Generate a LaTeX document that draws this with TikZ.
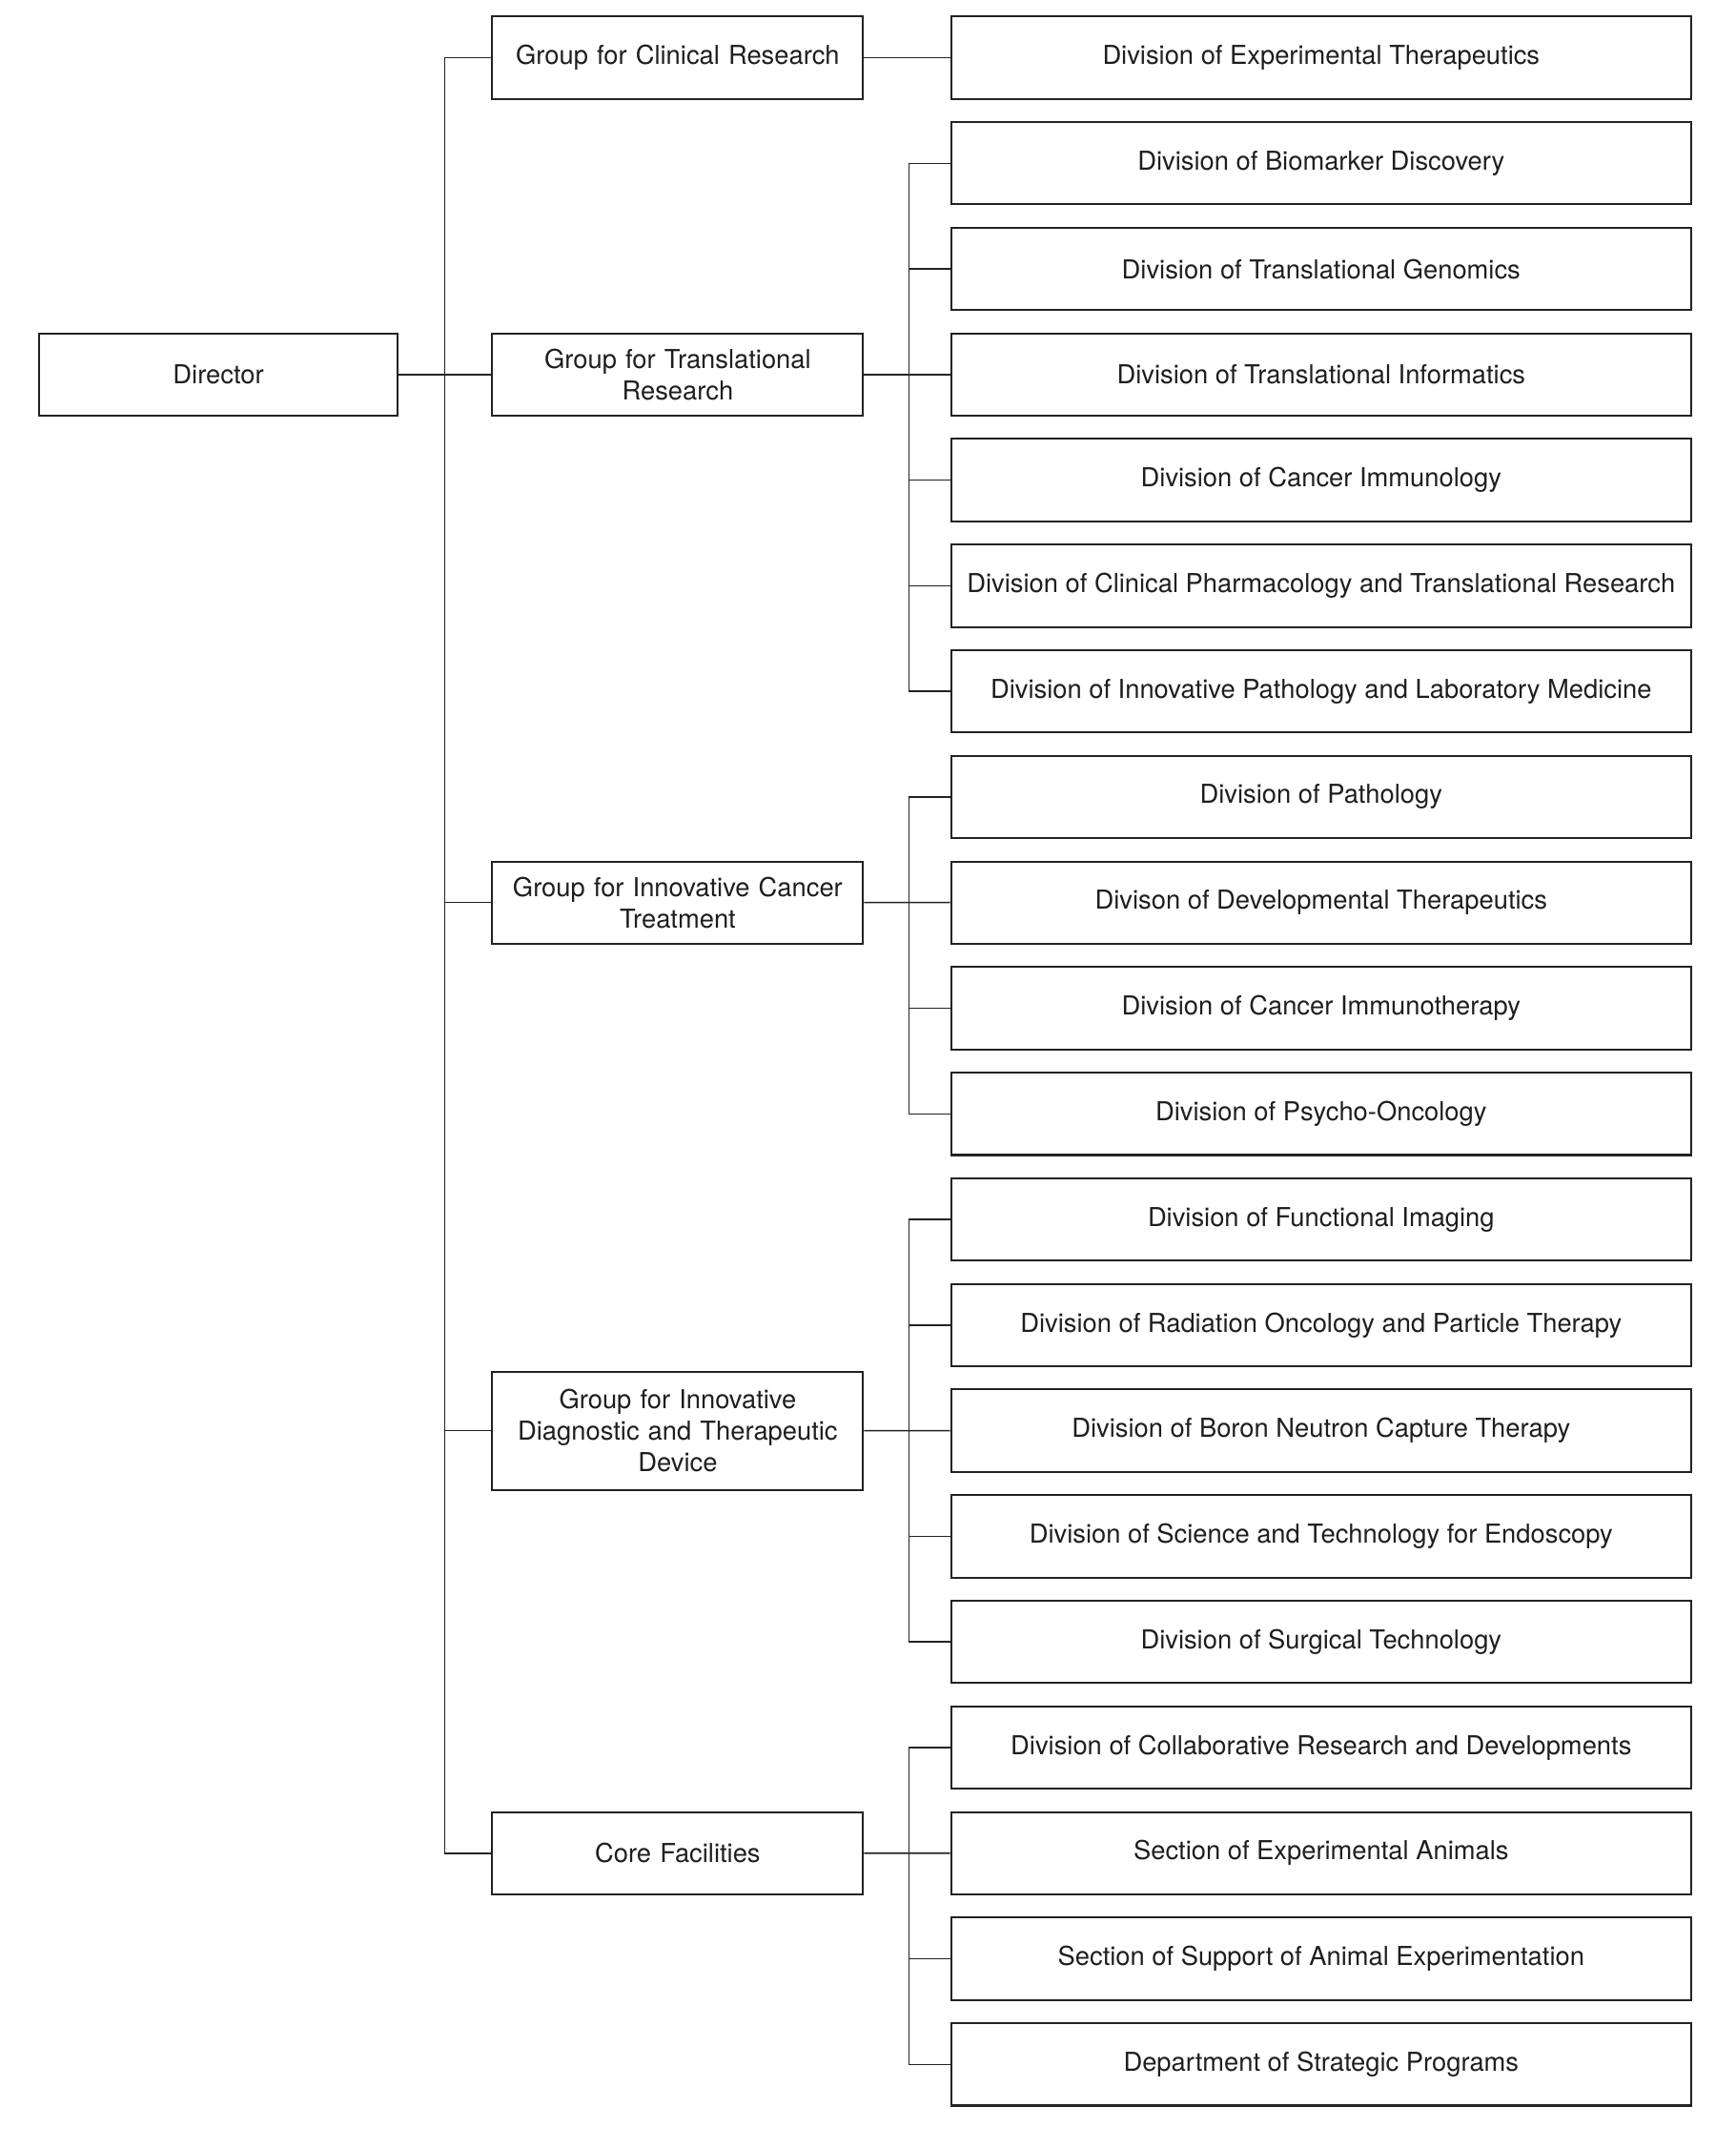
\documentclass[tikz,border=0pt]{standalone}
\usepackage{fontspec}
\setmainfont{TeX Gyre Heros}
\usepackage{tikz}
\usetikzlibrary{positioning,calc}
\usepackage{xcolor}
\definecolor{orgline}{RGB}{34,34,34}
\definecolor{orgtext}{RGB}{30,30,30}
\tikzstyle{unitbox} = [draw=orgline, line width=0.8pt, text=orgtext, align=center, inner sep=2pt, font=\fontsize{10.8}{13}\selectfont]
\tikzstyle{topbox} = [unitbox, minimum width=5.22cm, minimum height=1.2cm]
\tikzstyle{groupbox} = [unitbox, minimum width=5.4cm, minimum height=1.2cm, text width=5.1cm]
\tikzstyle{divbox} = [unitbox, minimum width=10.78cm, minimum height=1.2cm]
\tikzstyle{link} = [line width=0.6pt, color=orgline]

\begin{document}
\begin{tikzpicture}[x=0.02cm, y=-0.02cm]
    \useasboundingbox (0,0) rectangle (1264,1564);

    % Director
    \node[topbox] (dir) at (159, 272.7) {Director};

    % Groups
    \node[groupbox] (gcr) at (493.5, 42) {Group for Clinical Research};
    \node[groupbox] (gtr) at (493.5, 272.7) {Group for Translational\\Research};
    \node[groupbox] (gict) at (493.5, 657.2) {Group for Innovative Cancer\\Treatment};
    \node[groupbox, minimum height=1.72cm] (gidtd) at (493.5, 1041.7) {Group for Innovative\\Diagnostic and Therapeutic\\Device};
    \node[groupbox] (core) at (493.5, 1349.3) {Core Facilities};

    % Divisions and sections
    \foreach \unit [count=\i from 0] in {
        Division of Experimental Therapeutics,
        Division of Biomarker Discovery,
        Division of Translational Genomics,
        Division of Translational Informatics,
        Division of Cancer Immunology,
        Division of Clinical Pharmacology and Translational Research,
        Division of Innovative Pathology and Laboratory Medicine,
        Division of Pathology,
        Divison of Developmental Therapeutics,
        Division of Cancer Immunotherapy,
        Division of Psycho-Oncology,
        Division of Functional Imaging,
        Division of Radiation Oncology and Particle Therapy,
        Division of Boron Neutron Capture Therapy,
        Division of Science and Technology for Endoscopy,
        Division of Surgical Technology,
        Division of Collaborative Research and Developments,
        Section of Experimental Animals,
        Section of Support of Animal Experimentation,
        Department of Strategic Programs}
        \node[divbox] (d\i) at (962, {42+76.9*\i}) {\unit};

    % Director to groups
    \draw[link] (dir.east) -- (gtr.west);
    \draw[link] (gcr.west) -- ++(-34,0) |- (core.west);
    \draw[link] (gict.west) -- ++(-34,0);
    \draw[link] (gidtd.west) -- ++(-34,0);

    % Clinical research
    \draw[link] (gcr.east) -- (d0.west);

    % Translational research
    \draw[link] (gtr.east) -- (d3.west);
    \draw[link] (d1.west) -- ++(-30,0) |- (d6.west);
    \foreach \i in {2,4,5} \draw[link] (d\i.west) -- ++(-30,0);

    % Innovative cancer treatment
    \draw[link] (gict.east) -- (d8.west);
    \draw[link] (d7.west) -- ++(-30,0) |- (d10.west);
    \draw[link] (d9.west) -- ++(-30,0);

    % Diagnostic and therapeutic device
    \draw[link] (gidtd.east) -- (d13.west);
    \draw[link] (d11.west) -- ++(-30,0) |- (d15.west);
    \foreach \i in {12,14} \draw[link] (d\i.west) -- ++(-30,0);

    % Core facilities
    \draw[link] (core.east) -- (d17.west);
    \draw[link] (d16.west) -- ++(-30,0) |- (d19.west);
    \draw[link] (d18.west) -- ++(-30,0);
\end{tikzpicture}
\end{document}
